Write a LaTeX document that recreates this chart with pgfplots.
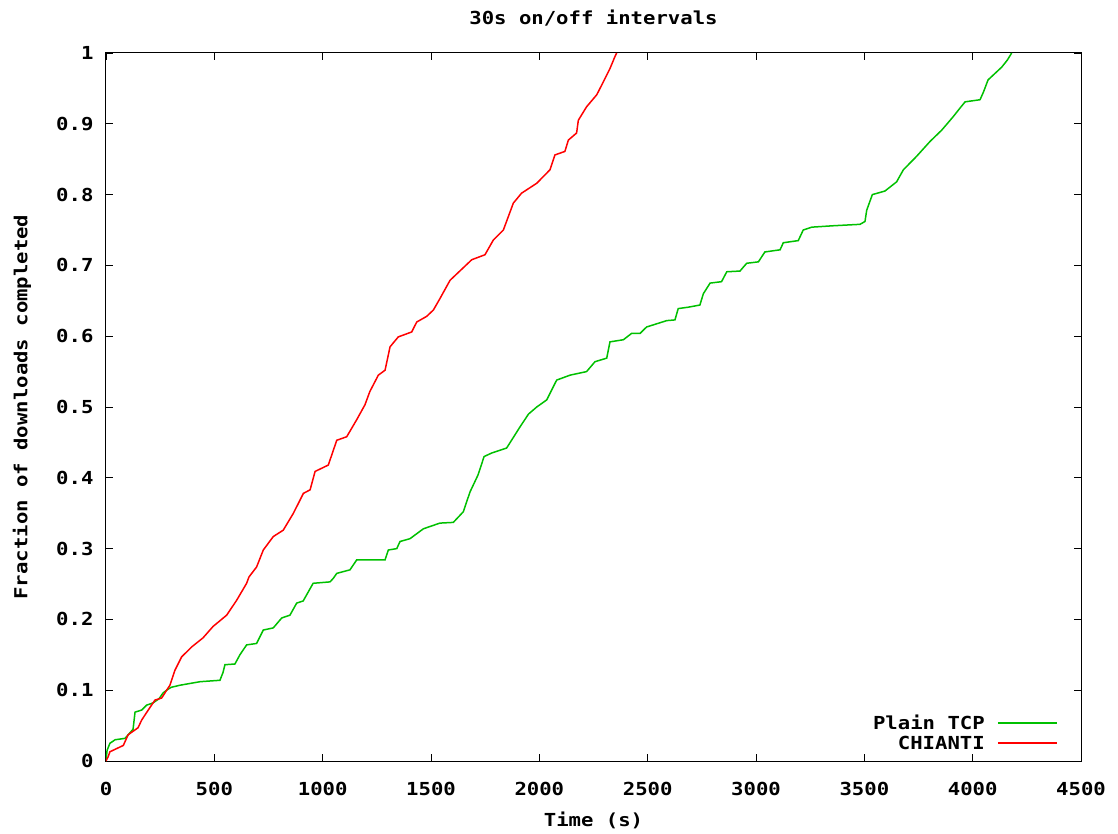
\documentclass[border=0pt]{standalone}
\usepackage{fontspec}
\setmainfont{DejaVu Sans Mono}[FakeStretch=1.15]
\usepackage{pgfplots}
\pgfplotsset{compat=1.18}
\definecolor{gpgreen}{RGB}{0,192,0}
\definecolor{gpred}{RGB}{255,0,0}
\begin{document}
\begin{tikzpicture}
\useasboundingbox (-106bp,-73bp) rectangle (1012bp,761bp);
\begin{axis}[
  scale only axis,
  width=975bp, height=708bp,
  xmin=0, xmax=4500, ymin=0, ymax=1,
  xtick={0,500,...,4500},
  ytick={0,0.1,...,1},
  yticklabels={0,0.1,0.2,0.3,0.4,0.5,0.6,0.7,0.8,0.9,1},
  xticklabel style={font=\bfseries\fontsize{18}{21}\selectfont, yshift=-18bp},
  yticklabel style={font=\bfseries\fontsize{18}{21}\selectfont, xshift=-9bp},
  /pgf/number format/assume math mode=true,
  /pgf/number format/1000 sep={},
  tick align=inside,
  major tick length=7bp,
  tick style={black, line width=0.9bp},
  axis line style={black, line width=1bp},
  title={30s on/off intervals},
  title style={font=\bfseries\fontsize{18}{21}\selectfont, at={(rel axis cs:0.5,1)}, anchor=center, yshift=29bp},
  xlabel={Time (s)},
  xlabel style={font=\bfseries\fontsize{18}{21}\selectfont, at={(rel axis cs:0.5,0)}, anchor=center, yshift=-59bp},
  ylabel={Fraction of downloads completed},
  ylabel style={font=\bfseries\fontsize{18}{21}\selectfont, at={(rel axis cs:0,0.5)}, anchor=center, yshift=84bp},
  legend style={draw=none, fill=none, font=\bfseries\fontsize{18}{21}\selectfont,
    at={(rel axis cs:1,0)}, anchor=south east, xshift=-22bp, yshift=8bp,
    row sep=1bp, inner sep=0bp},
  legend cell align=right,
  legend plot pos=none,
  legend image code/.code={},
]
\addplot[color=gpgreen, line width=1.5bp] coordinates {
(0,0) (5,0.015) (18,0.025) (42,0.030) (88,0.032) (111,0.04) (125,0.045) (134,0.069) (165,0.072) (188,0.079) (217,0.082) (245,0.088) (263,0.096) (280,0.10) (300,0.104) (341,0.107) (434,0.112) (526,0.114) (540,0.125) (549,0.136) (595,0.137) (618,0.15) (649,0.164) (695,0.166) (726,0.185) (772,0.188) (811,0.202) (849,0.206) (880,0.223) (910,0.226) (956,0.251) (1034,0.253) (1049,0.258) (1065,0.265) (1126,0.27) (1157,0.284) (1288,0.284) (1303,0.298) (1342,0.30) (1357,0.31) (1403,0.314) (1465,0.328) (1541,0.336) (1603,0.337) (1649,0.352) (1680,0.38) (1717,0.404) (1745,0.43) (1780,0.435) (1849,0.442) (1911,0.472) (1950,0.49) (1988,0.50) (2034,0.51) (2080,0.538) (2142,0.545) (2218,0.55) (2257,0.564) (2311,0.569) (2326,0.592) (2388,0.595) (2426,0.604) (2465,0.604) (2495,0.613) (2588,0.622) (2626,0.623) (2641,0.639) (2688,0.641) (2741,0.644) (2757,0.66) (2788,0.675) (2841,0.677) (2865,0.691) (2926,0.692) (2957,0.703) (3011,0.705) (3041,0.719) (3111,0.722) (3126,0.732) (3195,0.735) (3218,0.75) (3257,0.754) (3357,0.756) (3480,0.758) (3503,0.762) (3511,0.778) (3537,0.800) (3595,0.805) (3649,0.818) (3680,0.835) (3741,0.854) (3803,0.875) (3857,0.891) (3910,0.91) (3941,0.922) (3965,0.931) (4034,0.934) (4050,0.945) (4071,0.962) (4134,0.98) (4160,0.99) (4180,1.0)
};
\addlegendentry{Plain TCP\hspace{13bp}\textcolor{gpgreen}{\rule[5.8bp]{59bp}{1.5bp}}}
\addplot[color=gpred, line width=1.5bp] coordinates {
(0,0) (10,0.006) (18,0.013) (80,0.022) (102,0.037) (148,0.047) (165,0.058) (195,0.072) (226,0.086) (257,0.089) (280,0.10) (295,0.107) (318,0.128) (349,0.147) (395,0.161) (448,0.174) (494,0.19) (557,0.206) (603,0.227) (649,0.251) (660,0.26) (695,0.274) (726,0.298) (772,0.317) (818,0.326) (865,0.35) (911,0.378) (942,0.383) (965,0.409) (1026,0.418) (1065,0.453) (1111,0.458) (1157,0.482) (1195,0.503) (1218,0.522) (1257,0.545) (1288,0.552) (1311,0.585) (1349,0.599) (1411,0.606) (1434,0.62) (1480,0.628) (1511,0.637) (1541,0.653) (1588,0.679) (1688,0.708) (1749,0.715) (1788,0.736) (1834,0.75) (1880,0.788) (1918,0.802) (1988,0.816) (2049,0.835) (2072,0.856) (2118,0.861) (2134,0.877) (2172,0.887) (2180,0.905) (2218,0.924) (2265,0.941) (2295,0.959) (2326,0.978) (2349,0.995) (2357,1.0)
};
\addlegendentry{CHIANTI\hspace{13bp}\textcolor{gpred}{\rule[5.8bp]{59bp}{1.5bp}}}
\end{axis}
\end{tikzpicture}
\end{document}
